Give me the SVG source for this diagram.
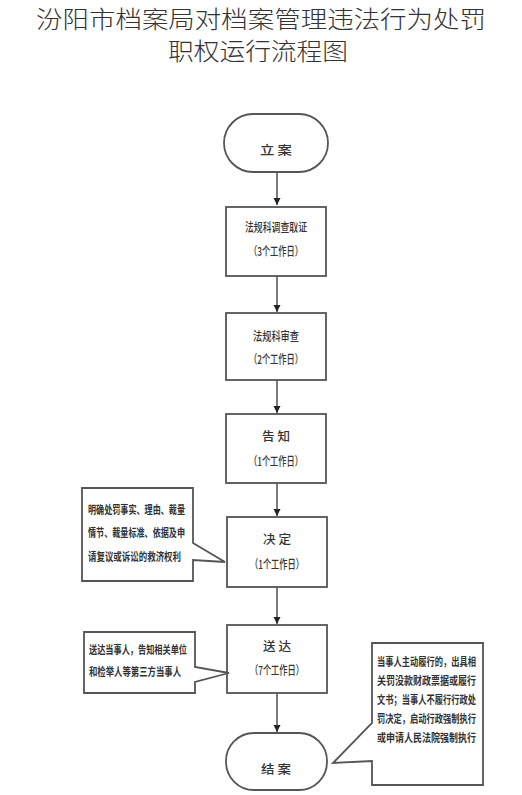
<svg xmlns="http://www.w3.org/2000/svg" width="522" height="795" viewBox="0 0 522 795">
<defs>
<marker id="ah" viewBox="0 0 10 10" refX="10" refY="5" markerWidth="7" markerHeight="9" markerUnits="userSpaceOnUse" orient="auto">
<path d="M0,0 L10,5 L0,10 Z" fill="#222"/>
</marker>
<style>
.title{font-family:"Noto Sans CJK SC","Noto Sans CJK TC",sans-serif;font-size:24px;font-weight:300;fill:#333;text-anchor:middle}
.shape{fill:#fff;stroke:#555;stroke-width:1.8}
.t{font-family:"Noto Sans CJK SC",sans-serif;font-size:12px;font-weight:500;fill:#333;text-anchor:middle}
.c{font-family:"Noto Sans CJK SC",sans-serif;font-size:11.5px;font-weight:700;fill:#333}
.conn{stroke:#333;stroke-width:1.3;fill:none;marker-end:url(#ah)}
</style>
</defs>
<rect width="522" height="795" fill="#fff"/>
<g id="title">
<text class="title" x="261" y="28" textLength="450" lengthAdjust="spacingAndGlyphs">汾阳市档案局对档案管理违法行为处罚</text>
<text class="title" x="258" y="60" textLength="180" lengthAdjust="spacingAndGlyphs">职权运行流程图</text>
</g>
<g id="connectors">
<line class="conn" x1="277" y1="172" x2="277" y2="205"/>
<line class="conn" x1="277" y1="276" x2="277" y2="312"/>
<line class="conn" x1="277" y1="380" x2="277" y2="413"/>
<line class="conn" x1="277" y1="483" x2="277" y2="516"/>
<line class="conn" x1="277" y1="587" x2="277" y2="624"/>
<line class="conn" x1="277" y1="693" x2="277" y2="732"/>
</g>
<g id="start">
<rect class="shape" x="224" y="114" width="104" height="58" rx="29" ry="29"/>
<text class="t" x="276" y="155" textLength="32" lengthAdjust="spacingAndGlyphs">立 案</text>
</g>
<g id="step1">
<rect class="shape" x="226" y="207" width="100" height="69"/>
<text class="t" x="276" y="232" textLength="62" lengthAdjust="spacingAndGlyphs">法规科调查取证</text>
<text class="t" x="276" y="256" textLength="54" lengthAdjust="spacingAndGlyphs">（3个工作日）</text>
</g>
<g id="step2">
<rect class="shape" x="226" y="313" width="100" height="67"/>
<text class="t" x="276" y="341" textLength="46" lengthAdjust="spacingAndGlyphs">法规科审查</text>
<text class="t" x="276" y="364" textLength="54" lengthAdjust="spacingAndGlyphs">（2个工作日）</text>
</g>
<g id="step3">
<rect class="shape" x="226" y="414" width="100" height="69"/>
<text class="t" x="276" y="441" textLength="28" lengthAdjust="spacingAndGlyphs">告 知</text>
<text class="t" x="276" y="466" textLength="54" lengthAdjust="spacingAndGlyphs">（1个工作日）</text>
</g>
<g id="step4">
<rect class="shape" x="227" y="517" width="100" height="70"/>
<text class="t" x="277" y="544" textLength="28" lengthAdjust="spacingAndGlyphs">决 定</text>
<text class="t" x="277" y="569" textLength="54" lengthAdjust="spacingAndGlyphs">（1个工作日）</text>
</g>
<g id="note1">
<path class="shape" d="M82,488 H193 V543 L225,562 L193,560 V581 H82 Z"/>
<text class="c" x="88" y="514" textLength="97" lengthAdjust="spacingAndGlyphs">明确处罚事实、理由、裁量</text>
<text class="c" x="88" y="537" textLength="97" lengthAdjust="spacingAndGlyphs">情节、裁量标准、依据及申</text>
<text class="c" x="88" y="561" textLength="93" lengthAdjust="spacingAndGlyphs">请复议或诉讼的救济权利</text>
</g>
<g id="step5">
<rect class="shape" x="227" y="625" width="100" height="68"/>
<text class="t" x="277" y="651" textLength="28" lengthAdjust="spacingAndGlyphs">送 达</text>
<text class="t" x="277" y="675" textLength="54" lengthAdjust="spacingAndGlyphs">（7个工作日）</text>
</g>
<g id="note2">
<path class="shape" d="M84,632 H195 V667 L229,673 L195,682 V693 H84 Z"/>
<text class="c" x="89" y="654" textLength="98" lengthAdjust="spacingAndGlyphs">送达当事人，告知相关单位</text>
<text class="c" x="89" y="676" textLength="92" lengthAdjust="spacingAndGlyphs">和检举人等第三方当事人</text>
</g>
<g id="end">
<rect class="shape" x="226" y="733" width="101" height="57" rx="28" ry="28"/>
<text class="t" x="276" y="774" textLength="30" lengthAdjust="spacingAndGlyphs">结 案</text>
</g>
<g id="note3">
<path class="shape" d="M372,643 H483 V785 H372 V761 L333,763 L372,723 Z"/>
<text class="c" x="377" y="666" textLength="99" lengthAdjust="spacingAndGlyphs">当事人主动履行的，出具相</text>
<text class="c" x="377" y="685" textLength="99" lengthAdjust="spacingAndGlyphs">关罚没款财政票据或履行</text>
<text class="c" x="377" y="704" textLength="99" lengthAdjust="spacingAndGlyphs">文书；当事人不履行行政处</text>
<text class="c" x="377" y="723" textLength="99" lengthAdjust="spacingAndGlyphs">罚决定，启动行政强制执行</text>
<text class="c" x="377" y="742" textLength="99" lengthAdjust="spacingAndGlyphs">或申请人民法院强制执行</text>
</g>
</svg>
